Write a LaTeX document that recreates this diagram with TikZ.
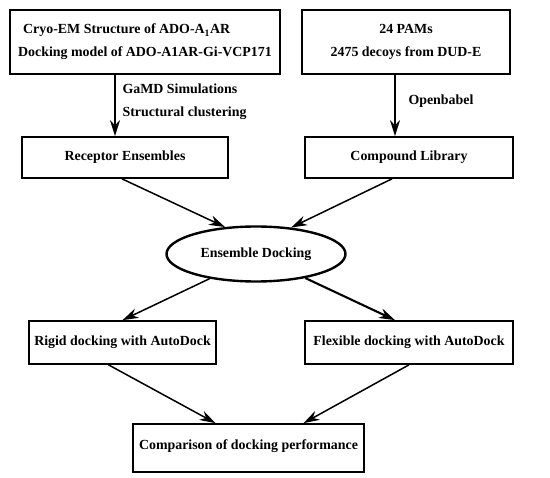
\documentclass[tikz,border=0pt]{standalone}
\usepackage{fontspec}
\setmainfont{Liberation Serif}
\usetikzlibrary{arrows.meta,shapes.geometric}

\begin{document}
\begin{tikzpicture}[x=1pt,y=-1pt,
  every node/.style={font=\bfseries\fontsize{13.9}{23}\selectfont},
  box/.style={draw,rectangle,line width=1.7pt,inner sep=0pt},
  flow/.style={-{Stealth[length=16pt,width=10pt]},line width=1.5pt}
]
\useasboundingbox (0,0) rectangle (550,478);
% Inputs
\node[box,line width=2.3pt,minimum width=270pt,minimum height=64pt,align=left] (cryo) at (145,42)
  {\hspace*{5pt}Cryo-EM Structure of ADO-A\textsubscript{1}AR\\Docking model of ADO-A1AR-Gi-VCP171};
\node[box,line width=2.3pt,minimum width=208pt,minimum height=64pt,align=center] (pams) at (406,42)
  {24 PAMs\\2475 decoys from DUD-E};
% Prepared sets
\node[box,minimum width=206pt,minimum height=41pt] (recep) at (125,157.5) {Receptor Ensembles};
\node[box,minimum width=208pt,minimum height=41pt] (clib) at (409,157.5) {Compound Library};
% Docking
\node[draw,ellipse,line width=2.4pt,minimum width=179pt,minimum height=55pt,inner sep=0pt] (dock) at (256,254) {Ensemble Docking};
\node[box,minimum width=187pt,minimum height=43pt] (rigid) at (122.5,342.5) {Rigid docking with AutoDock};
\node[box,minimum width=208pt,minimum height=43pt] (flex) at (409,342.5) {Flexible docking with AutoDock};
\node[box,minimum width=231pt,inner ysep=4pt,text height=22pt,text depth=18pt] (comp) at (248.5,448) {Comparison of docking performance};
% Step labels
\node[anchor=west,align=left] (gamd) at (119,102) {GaMD Simulations\\Structural clustering};
\node[anchor=west] (obabel) at (405,101) {Openbabel};
% Connectors
\draw[flow] ([xshift=-30pt]cryo.south) -- ([xshift=-10pt]recep.north);
\draw[flow] ([xshift=-11pt]pams.south) -- ([xshift=-14pt]clib.north);
\draw[flow] ([xshift=-3pt]recep.south) -- (dock.139);
\draw[flow] ([xshift=-17pt]clib.south) -- (dock.37);
\draw[flow] (dock.208) -- (rigid.north);
\draw[flow,line width=2.1pt] (dock.334) -- ([xshift=-14pt]flex.north);
\draw[flow] ([xshift=-14pt]rigid.south) -- ([xshift=-33pt]comp.north);
\draw[flow] (flex.south) -- ([xshift=55pt]comp.north);
\end{tikzpicture}
\end{document}
